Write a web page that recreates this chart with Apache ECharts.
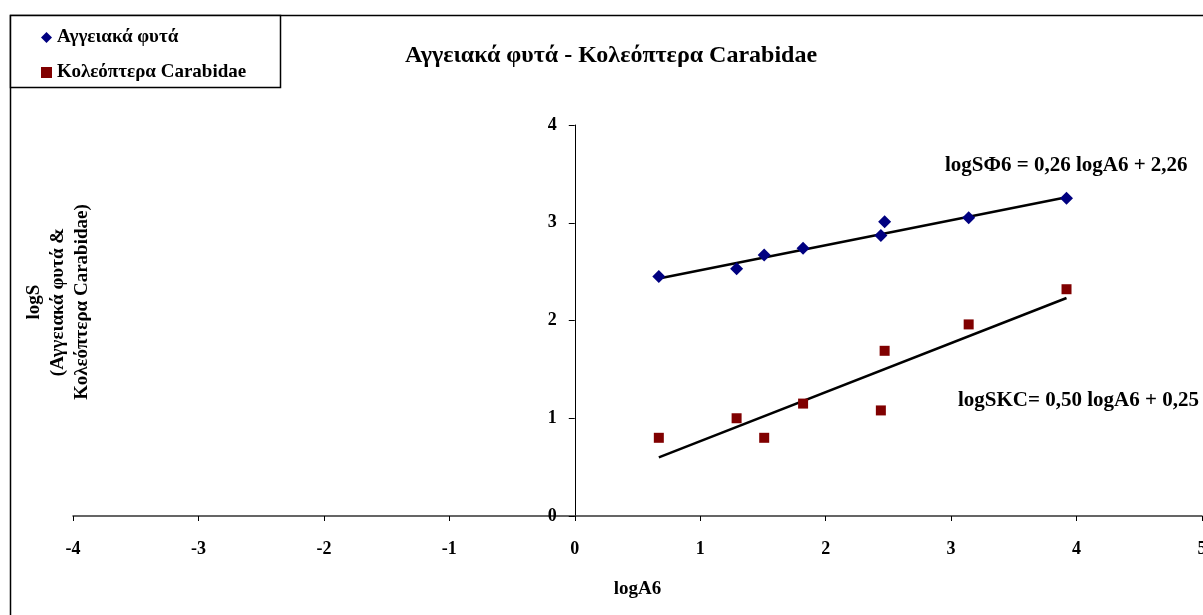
<!DOCTYPE html>
<html>
<head>
<meta charset="utf-8">
<script src="https://cdn.jsdelivr.net/npm/echarts@6/dist/echarts.min.js"></script>
<style>html,body{margin:0;padding:0;background:#fff;}#c{width:1203px;height:615px;}</style>
</head>
<body>
<div id="c"></div>
<script>
// Data
const logA = [0.67, 1.29, 1.51, 1.82, 2.44, 2.47, 3.14, 3.92];
const plantsLogS = [2.45, 2.53, 2.67, 2.74, 2.87, 3.01, 3.05, 3.25];
const beetlesLogS = [0.80, 1.00, 0.80, 1.15, 1.08, 1.69, 1.96, 2.32];
const plantsTrend = [[0.67, 2.43], [3.92, 3.26]];
const beetlesTrend = [[0.67, 0.60], [3.92, 2.23]];
const seriesNames = ['Αγγειακά φυτά', 'Κολεόπτερα Carabidae'];
const titleText = 'Αγγειακά φυτά - Κολεόπτερα Carabidae';
const eqPlants = 'logSΦ6 = 0,26 logA6 + 2,26';
const eqBeetles = 'logSKC= 0,50 logA6 + 0,25';
const xTicks = { min: -4, max: 5, interval: 1 };
const yTicks = { min: 0, max: 4, interval: 1 };

const FONT = '"Liberation Serif", "Times New Roman", serif';
const GRID = { left: 73, top: 125, width: 1129, height: 391 };
// y axis drawn where x = 0
const yAxisOffset = -GRID.width * (0 - xTicks.min) / (xTicks.max - xTicks.min);

const chart = echarts.init(document.getElementById('c'), null, { renderer: 'canvas' });
const zip = (xs, ys) => xs.map((x, i) => [x, ys[i]]);

chart.setOption({
  animation: false,
  backgroundColor: '#ffffff',
  title: {
    text: titleText,
    left: 611, top: 44, textAlign: 'center', padding: 0,
    textStyle: { fontFamily: FONT, fontWeight: 'bold', fontSize: 24, color: '#000' }
  },
  legend: {
    orient: 'vertical', left: 41, top: 28, padding: 0,
    itemWidth: 11, itemHeight: 11, itemGap: 16,
    data: [{ name: seriesNames[0], icon: 'diamond' }, { name: seriesNames[1], icon: 'rect' }],
    textStyle: { fontFamily: FONT, fontWeight: 'bold', fontSize: 19, color: '#000' }
  },
  grid: Object.assign({ containLabel: false, outerBoundsMode: 'none' }, GRID),
  xAxis: {
    type: 'value', min: xTicks.min, max: xTicks.max, interval: xTicks.interval,
    name: 'logA6', nameLocation: 'middle', nameGap: 64,
    nameTextStyle: { fontFamily: FONT, fontWeight: 'bold', fontSize: 19, color: '#000' },
    axisLine: { onZero: true, lineStyle: { color: '#333', width: 1.5 } },
    axisTick: { show: true, inside: false, length: 5, lineStyle: { color: '#000' } },
    axisLabel: { margin: 24, fontFamily: FONT, fontWeight: 'bold', fontSize: 18, color: '#000', showMaxLabel: true, hideOverlap: false },
    splitLine: { show: false }
  },
  yAxis: {
    type: 'value', min: yTicks.min, max: yTicks.max, interval: yTicks.interval,
    offset: yAxisOffset,
    axisLine: { onZero: false, lineStyle: { color: '#000', width: 1 } },
    axisTick: { show: true, inside: false, length: 6, lineStyle: { color: '#000' } },
    axisLabel: { margin: 18, fontFamily: FONT, fontWeight: 'bold', fontSize: 18, color: '#000' },
    splitLine: { show: false }
  },
  graphic: [
    { type: 'rect', z: -10, shape: { x: 10.5, y: 15.5, width: 1300, height: 700 },
      style: { fill: 'none', stroke: '#000', lineWidth: 1.5 } },
    { type: 'rect', z: -5, shape: { x: 10.5, y: 15.5, width: 270, height: 72 },
      style: { fill: '#fff', stroke: '#000', lineWidth: 1.5 } },
    { type: 'text', x: 58, y: 302, rotation: Math.PI / 2,
      style: { text: 'logS\n(Αγγειακά φυτά &\nΚολεόπτερα Carabidae)', textAlign: 'center', textVerticalAlign: 'middle',
        font: 'bold 19px ' + FONT, lineHeight: 24, fill: '#000' } },
    { type: 'text', x: 945, y: 166,
      style: { text: eqPlants, textAlign: 'left', textVerticalAlign: 'middle', font: 'bold 21px ' + FONT, fill: '#000' } },
    { type: 'text', x: 958, y: 401,
      style: { text: eqBeetles, textAlign: 'left', textVerticalAlign: 'middle', font: 'bold 21px ' + FONT, fill: '#000' } }
  ],
  series: [
    { name: seriesNames[0], type: 'scatter', symbol: 'diamond', symbolSize: 13,
      itemStyle: { color: '#000080', opacity: 1 }, data: zip(logA, plantsLogS), z: 3 },
    { name: seriesNames[1], type: 'scatter', symbol: 'rect', symbolSize: 10,
      itemStyle: { color: '#800000', opacity: 1 }, data: zip(logA, beetlesLogS), z: 3 },
    { name: 'trend1', type: 'line', showSymbol: false, symbol: 'none', data: plantsTrend,
      lineStyle: { color: '#000', width: 2.5 }, z: 2 },
    { name: 'trend2', type: 'line', showSymbol: false, symbol: 'none', data: beetlesTrend,
      lineStyle: { color: '#000', width: 2.5 }, z: 2 }
  ]
});
</script>
</body>
</html>
